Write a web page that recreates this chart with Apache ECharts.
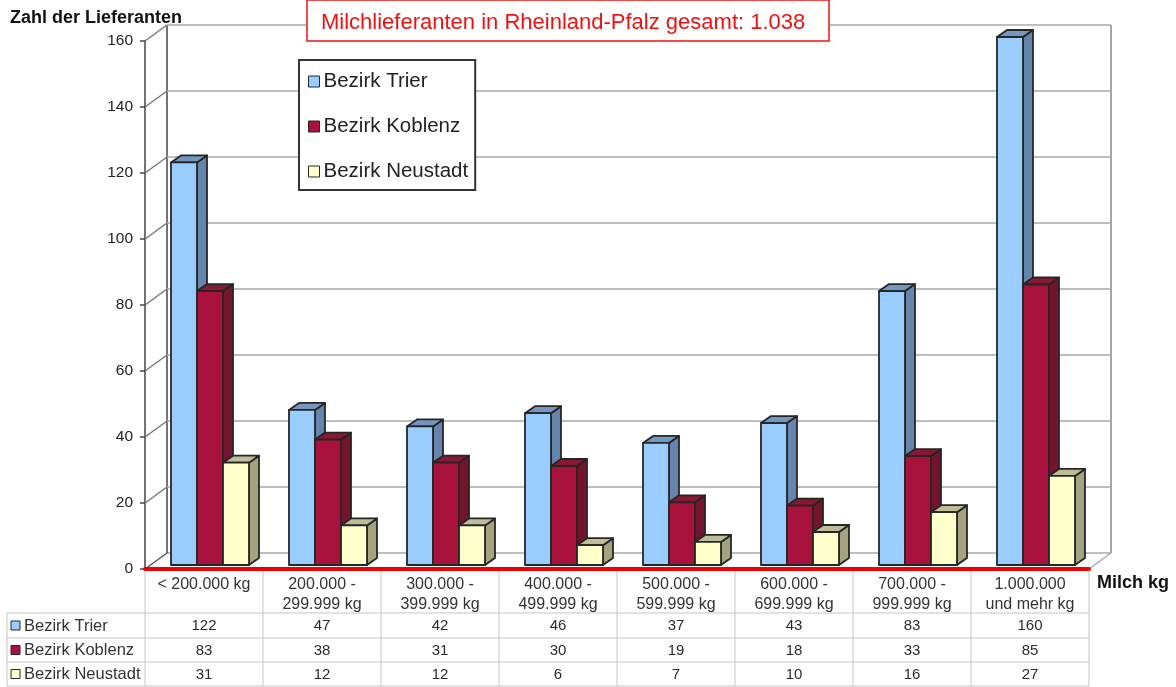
<!DOCTYPE html>
<html><head><meta charset="utf-8">
<style>html,body{margin:0;padding:0;background:#fff}#c{width:1176px;height:687px}</style>
<script src="https://cdn.jsdelivr.net/npm/echarts@6/dist/echarts.min.js"></script>
</head><body><div id="c"></div>
<script>
const categories = ['< 200.000 kg','200.000 -\n299.999 kg','300.000 -\n399.999 kg','400.000 -\n499.999 kg','500.000 -\n599.999 kg','600.000 -\n699.999 kg','700.000 -\n999.999 kg','1.000.000\nund mehr kg'];
const trier    = [122,47,42,46,37,43,83,160];
const koblenz  = [83,38,31,30,19,18,33,85];
const neustadt = [31,12,12,6,7,10,16,27];
const seriesNames = ['Bezirk Trier','Bezirk Koblenz','Bezirk Neustadt'];
const seriesValues = [trier, koblenz, neustadt];
const frontColors = ['#99ccff','#a8123c','#ffffcc'];
const sideColors  = ['#6685ad','#74142e','#a3a37f'];
const topColors   = ['#7596bf','#8a1733','#bdbd99'];
const yTicks = [0,20,40,60,80,100,120,140,160];
const titleText = 'Milchlieferanten in Rheinland-Pfalz gesamt: 1.038';
const yName = 'Zahl der Lieferanten';
const xName = 'Milch kg';

const DX = 22, DY = 16;            // wall depth
const BAR = 26, BDX = 10, BDY = 7; // bar width and bar depth
const EDGE = '#262626', GRID = '#a9a9a9', CELL = '#c4c4c4';
const tableLeft = 7, rowLines = [613,638,662,686], bottomAxis = 569;

function line(x1,y1,x2,y2,stroke,lineWidth){
  return {type:'line',shape:{x1,y1,x2,y2},style:{stroke,lineWidth}};
}
function wallItem(params, api){
  const rect = params.coordSys, v = api.value(0), y = api.coord([0,v])[1];
  const l = rect.x, r = rect.x + rect.width, kids = [];
  kids.push(line(l,y,l+DX,y-DY, v===0 ? '#555' : '#777',1.5));
  kids.push(line(l+DX,y-DY,r+DX,y-DY,GRID,1.5));
  kids.push(line(l-5,y,l,y,'#444',1.5));
  if(v===0){
    kids.push(line(r,y,r+DX,y-DY,GRID,1.5));
    kids.push(line(l+DX,y-DY,l+DX,rect.y-DY,'#444',1.5));
    kids.push(line(r+DX,y-DY,r+DX,rect.y-DY,'#888',1.5));
  }
  return {type:'group',children:kids};
}
function barRender(idx){
  return function(params, api){
    const cat = api.value(0), val = api.value(1);
    const cx = api.coord([cat,0])[0];
    const base = api.coord([cat,0])[1] - 4;
    const top = api.coord([cat,val])[1] - 4;
    const x = cx - 33 + idx*BAR;
    const edge = {stroke:EDGE,lineWidth:1.8,lineJoin:'round'};
    return {type:'group',children:[
      {type:'polygon',shape:{points:[[x+BAR,top],[x+BAR+BDX,top-BDY],[x+BAR+BDX,base-BDY],[x+BAR,base]]},style:{fill:sideColors[idx],...edge}},
      {type:'polygon',shape:{points:[[x,top],[x+BDX,top-BDY],[x+BAR+BDX,top-BDY],[x+BAR,top]]},style:{fill:topColors[idx],...edge}},
      {type:'rect',shape:{x,y:top,width:BAR,height:base-top},style:{fill:frontColors[idx],...edge}}
    ]};
  };
}
function cellItem(params, api){
  const cx = api.coord([api.value(0),0])[0], row = api.value(1);
  return {type:'text',style:{
    text:String(api.value(2)),x:cx,y:(rowLines[row]+rowLines[row+1])/2+0.5,
    align:'center',verticalAlign:'middle',fill:'#2b2b2b',font:'15px "Liberation Sans"'}};
}
function tableItem(params, api){
  const rect = params.coordSys, kids = [];
  const l = rect.x, r = rect.x + rect.width, step = rect.width/categories.length;
  rowLines.forEach(y => kids.push(line(tableLeft,y,r,y,CELL,1)));
  kids.push(line(tableLeft,rowLines[0],tableLeft,rowLines[3],CELL,1));
  for(let i=0;i<=categories.length;i++){
    const x = l+i*step;
    kids.push(line(x,bottomAxis,x,rowLines[3],CELL,1));
  }
  seriesNames.forEach((n,i)=>{
    const mid = (rowLines[i]+rowLines[i+1])/2;
    kids.push({type:'rect',shape:{x:11,y:mid-4.5,width:9,height:9},style:{fill:frontColors[i],stroke:EDGE,lineWidth:1}});
    kids.push({type:'text',style:{text:n,x:24,y:mid+0.5,verticalAlign:'middle',fill:'#333',font:'16.5px "Liberation Sans"'}});
  });
  return {type:'group',children:kids};
}

const chart = echarts.init(document.getElementById('c'),null,{renderer:'canvas'});
const cellData = [];
seriesValues.forEach((vals,r)=>vals.forEach((v,c)=>cellData.push([c,r,v])));

chart.setOption({
  animation:false,
  backgroundColor:'#fff',
  textStyle:{fontFamily:'"Liberation Sans", Arial, sans-serif'},
  title:{
    text:titleText,left:307,top:0,z:20,
    backgroundColor:'#fff',borderColor:'#ee1111',borderWidth:1.5,
    padding:[11,24,6,14],
    textStyle:{color:'#f01010',fontSize:22,fontWeight:'normal',lineHeight:24}
  },
  legend:{
    data:seriesNames,orient:'vertical',left:299,top:60,z:20,
    backgroundColor:'#fff',borderColor:'#333',borderWidth:2,borderRadius:0,
    padding:[11,7,8,9],itemGap:24,itemWidth:11,itemHeight:11,icon:'rect',
    itemStyle:{borderColor:EDGE,borderWidth:1},
    textStyle:{fontSize:20.5,color:'#222',lineHeight:20,padding:[0,0,0,-1]}
  },
  grid:{left:145,right:87,top:41,bottom:118},
  xAxis:{
    type:'category',data:categories,
    name:xName,nameLocation:'end',nameGap:8,
    nameTextStyle:{fontSize:18,fontWeight:'bold',color:'#111',verticalAlign:'top',padding:[5,0,0,0]},
    axisLine:{onZero:false,lineStyle:{color:'#f00000',width:4}},
    axisTick:{show:false},
    z:10,
    axisLabel:{interval:0,margin:6,fontSize:16,lineHeight:20,color:'#333',verticalAlign:'top'}
  },
  yAxis:{
    type:'value',min:0,max:160,interval:20,
    name:yName,nameLocation:'end',nameGap:14,
    nameTextStyle:{fontSize:18,fontWeight:'bold',color:'#111',align:'left',padding:[0,0,0,-135]},
    axisLine:{show:true,lineStyle:{color:'#444',width:1.5}},
    axisTick:{show:false},
    splitLine:{show:false},
    axisLabel:{margin:12,fontSize:15.5,color:'#222',padding:[4,0,0,0]}
  },
  series:[
    {type:'custom',name:'walls',silent:true,clip:false,z:1,renderItem:wallItem,
      data:yTicks.map(v=>[v]),encode:{y:0}},
    ...seriesNames.map((name,i)=>({
      type:'custom',name,z:3,clip:false,renderItem:barRender(i),
      itemStyle:{color:frontColors[i]},
      data:seriesValues[i].map((v,c)=>[c,v]),encode:{x:0,y:1}
    })),
    {type:'custom',name:'tableGrid',silent:true,clip:false,z:2,renderItem:tableItem,data:[[0]]},
    {type:'custom',name:'tableCells',silent:true,clip:false,z:4,renderItem:cellItem,
      data:cellData,encode:{x:0}}
  ]
});
</script></body></html>
